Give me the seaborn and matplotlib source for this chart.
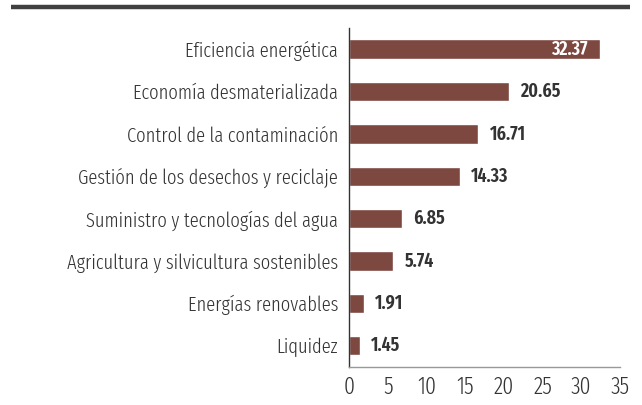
import matplotlib
matplotlib.use("Agg")
import matplotlib.pyplot as plt
from matplotlib.lines import Line2D
import pandas as pd
import seaborn as sns

categories = [
    "Eficiencia energética",
    "Economía desmaterializada",
    "Control de la contaminación",
    "Gestión de los desechos y reciclaje",
    "Suministro y tecnologías del agua",
    "Agricultura y silvicultura sostenibles",
    "Energías renovables",
    "Liquidez",
]
values = [32.37, 20.65, 16.71, 14.33, 6.85, 5.74, 1.91, 1.45]
x_ticks = [0, 5, 10, 15, 20, 25, 30, 35]

df = pd.DataFrame({"categoria": categories, "valor": values})

sns.set_style("white")
fonts = ["Fira Sans Extra Condensed", "Fira Sans Condensed", "DejaVu Sans"]
plt.rcParams["font.family"] = fonts

bar_color = "#7d4840"
text_color = "#333333"

fig = plt.figure(figsize=(6.42, 4.05), dpi=100)
ax = fig.add_axes([349 / 642, 0.094, 271 / 642, 0.837])

sns.barplot(data=df, x="valor", y="categoria", orient="h", color=bar_color,
            saturation=1, width=0.46, ax=ax)

ax.set_xlim(0, 35)
ax.set_ylim(len(categories) - 0.5, -0.5)
ax.set_xticks(x_ticks)
ax.set_xticklabels([str(t) for t in x_ticks])
ax.set_xlabel("")
ax.set_ylabel("")
ax.tick_params(axis="both", length=0, colors=text_color)
ax.tick_params(axis="y", pad=8, labelsize=14.5)
ax.tick_params(axis="x", pad=6, labelsize=17)
for lab in ax.get_yticklabels() + ax.get_xticklabels():
    lab.set_fontweight(300)

for s in ["top", "right"]:
    ax.spines[s].set_visible(False)
ax.spines["left"].set_color("#333333")
ax.spines["left"].set_linewidth(1.0)
ax.spines["bottom"].set_color("#999999")
ax.spines["bottom"].set_linewidth(1.0)

# value labels: the longest bar keeps it inside in white
for i, v in enumerate(values):
    if v == max(values):
        ax.annotate(f"{v:.2f}", (v, i), xytext=(-9, 0), textcoords="offset points",
                    ha="right", va="center", color="white", fontsize=14, fontweight=600)
    else:
        ax.annotate(f"{v:.2f}", (v, i), xytext=(8, 0), textcoords="offset points",
                    ha="left", va="center", color=text_color, fontsize=14, fontweight=600)

# thick rule across the top
fig.add_artist(Line2D([11 / 642, 630 / 642], [1 - 7 / 405, 1 - 7 / 405],
                      transform=fig.transFigure, color="#404040", linewidth=3.2,
                      solid_capstyle="butt"))

fig.savefig("out.png", dpi=100)
